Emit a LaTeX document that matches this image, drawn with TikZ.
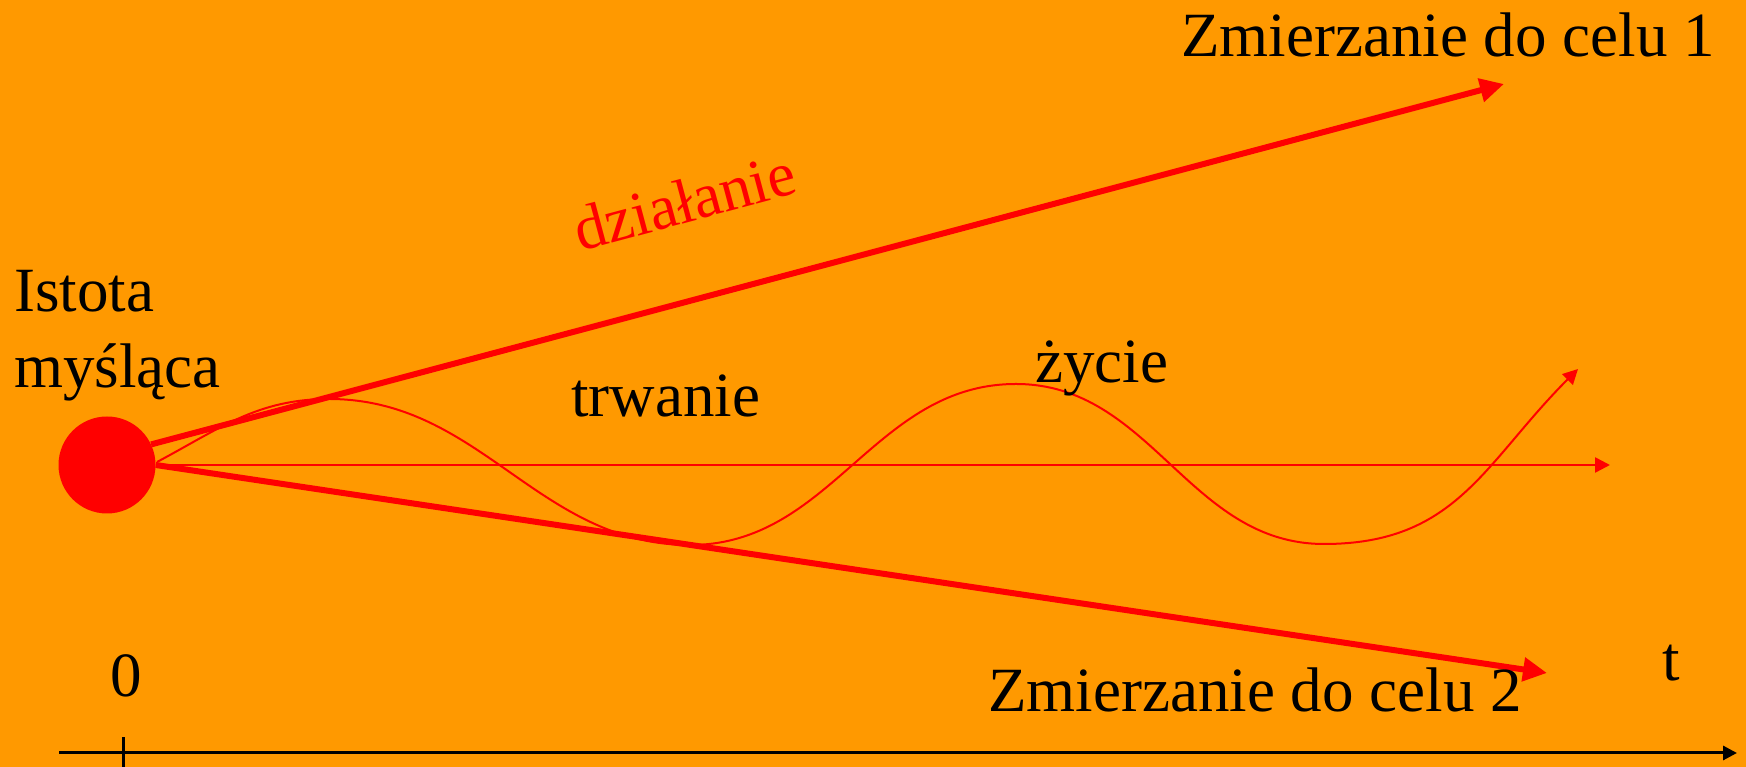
\documentclass[tikz,border=0pt]{standalone}
\usepackage{fontspec}
\setmainfont{Liberation Serif}
\usetikzlibrary{arrows.meta}
\definecolor{bgorange}{RGB}{255,153,0}
\definecolor{lred}{RGB}{255,0,0}
\begin{document}
\begin{tikzpicture}[x=1pt,y=1pt,
  lbl/.style={inner sep=0pt, font=\fontsize{63}{75}\selectfont, text=black},
  thickarrow/.style={draw=lred, line width=6pt, -{Triangle[length=24pt,width=23pt]}},
  thinarrow/.style={draw=lred, line width=2.5pt, -{Triangle[length=15pt,width=15pt]}},
  wavearrow/.style={draw=lred, line width=2pt, -{Triangle[length=15pt,width=15pt]}},
  axisarrow/.style={draw=black, line width=3pt, -{Triangle[length=14pt,width=14pt]}}]
\fill[bgorange] (0,0) rectangle (1746,767);
\useasboundingbox (0,0) rectangle (1746,767);

% nodes
\node[circle, fill=lred, minimum size=97pt, inner sep=0pt] (dot) at (107,302) {};
\coordinate (goal1) at (1504,683);
\coordinate (goal2) at (1547,94);
\coordinate (hend) at (1610,302);
\coordinate (wstart) at (157,305);
\coordinate (p1) at (329,368);
\coordinate (t1) at (690,222);
\coordinate (p2) at (1016,383);
\coordinate (t2) at (1324,223);
\coordinate (wend) at (1578,398);
\coordinate (axs) at (59,14);
\coordinate (axe) at (1737,14);
\coordinate (tickt) at (123,30);
\coordinate (tickb) at (123,0);

% connectors
\draw[thinarrow] (dot.east) -- (hend);
\draw[wavearrow] (wstart) to[out=28,in=180] (p1) to[out=0,in=180] (t1)
   to[out=0,in=180] (p2) to[out=0,in=180] (t2) to[out=0,in=225,looseness=1.1] (wend);
\draw[thickarrow] (dot.25) -- (goal1);
\draw[thickarrow] (dot.east) -- (goal2);
\draw[axisarrow] (axs) -- (axe);
\draw[black, line width=3pt] (tickb) -- (tickt);

% labels
\node[lbl, anchor=base west] (goal1lbl) at (1181,710) {Zmierzanie do celu 1};
\node[lbl, anchor=base west] (goal2lbl) at (988,55) {Zmierzanie do celu 2};
\node[lbl, anchor=base, text=lred, rotate=15] (dzial) at (690,545) {działanie};
\node[lbl, anchor=base west] (ist1) at (14,455) {Istota};
\node[lbl, anchor=base west] (ist2) at (14,379) {myśląca};
\node[lbl, anchor=base west] (trw) at (571,350) {trwanie};
\node[lbl, anchor=base west] (zyc) at (1035,384) {życie};
\node[lbl, anchor=base] (zero) at (126,70) {0};
\node[lbl, anchor=base] (tlbl) at (1671,86) {t};
\end{tikzpicture}
\end{document}
